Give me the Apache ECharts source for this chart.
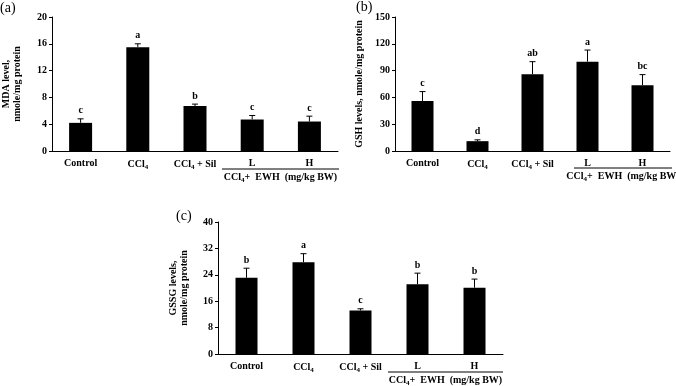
<!DOCTYPE html>
<html>
<head>
<meta charset="utf-8">
<script src="https://cdn.jsdelivr.net/npm/echarts@6/dist/echarts.min.js"></script>
<style>
  html, body { margin: 0; padding: 0; background: #fff; }
  #container { width: 676px; height: 386px; }
</style>
</head>
<body>
<div id="container"></div>
<script>
// groups on the x axis (same in all three panels)
const categories = ['Control', 'CCl4', 'CCl4 + Sil', 'L', 'H'];

// (a) MDA
const mdaMean = [4.2, 15.5, 6.7, 4.7, 4.4];
const mdaErr = [0.6, 0.5, 0.3, 0.6, 0.8];
const mdaLetters = ['c', 'a', 'b', 'c', 'c'];
const mdaTicks = [0, 20, 4];

// (b) GSH
const gshMean = [56, 11, 86, 100, 73.5];
const gshErr = [10.5, 1.5, 14, 13, 12];
const gshLetters = ['c', 'd', 'ab', 'a', 'bc'];
const gshTicks = [0, 150, 30];

// (c) GSSG
const gssgMean = [23.1, 27.8, 13.2, 21.1, 20.1];
const gssgErr = [2.9, 2.6, 0.5, 3.4, 2.6];
const gssgLetters = ['b', 'a', 'c', 'b', 'b'];
const gssgTicks = [0, 40, 8];

const FONT = '"Liberation Serif", "Times New Roman", serif';

var chart = echarts.init(document.getElementById('container'));

function xAxisFor(gridIndex) {
  return {
    type: 'category',
    gridIndex: gridIndex,
    data: categories,
    axisTick: { show: false },
    axisLine: { lineStyle: { color: '#000', width: 1 } },
    axisLabel: {
      interval: 0,
      hideOverlap: false,
      margin: 7,
      color: '#000',
      fontFamily: FONT,
      fontWeight: 'bold',
      fontSize: 10,
      formatter: (v) => v.replace('CCl4', 'CCl{sub|4}'),
      rich: {
        sub: { fontSize: 7, fontWeight: 'bold', fontFamily: FONT, padding: [6, 0, 0, 0] },
      },
    },
  };
}

function yAxisFor(gridIndex, ticks, name, gap) {
  return {
    type: 'value',
    gridIndex: gridIndex,
    min: ticks[0],
    max: ticks[1],
    interval: ticks[2],
    name: name,
    nameLocation: 'middle',
    nameRotate: 90,
    nameGap: gap,
    nameTextStyle: {
      color: '#000',
      fontFamily: FONT,
      fontWeight: 'bold',
      fontSize: 10,
      lineHeight: 11,
    },
    splitLine: { show: false },
    axisLine: { show: true, lineStyle: { color: '#000', width: 1 } },
    axisTick: { show: true, length: 3, lineStyle: { color: '#000' } },
    axisLabel: {
      margin: 5,
      color: '#000',
      fontFamily: FONT,
      fontWeight: 'bold',
      fontSize: 10,
    },
  };
}

function barSeries(idx, values, width) {
  return {
    type: 'bar',
    xAxisIndex: idx,
    yAxisIndex: idx,
    data: values,
    barWidth: width,
    itemStyle: { color: '#000' },
    silent: true,
  };
}

// upward error bar with cap and significance letter on top
function errorSeries(idx, means, errs, letters) {
  return {
    type: 'custom',
    xAxisIndex: idx,
    yAxisIndex: idx,
    silent: true,
    data: means.map((m, i) => [i, m, m + errs[i]]),
    renderItem: function (params, api) {
      const base = api.coord([api.value(0), api.value(1)]);
      const top = api.coord([api.value(0), api.value(2)]);
      const x = base[0];
      return {
        type: 'group',
        children: [
          {
            type: 'line',
            shape: { x1: x, y1: base[1], x2: x, y2: top[1] },
            style: { stroke: '#000', lineWidth: 1 },
          },
          {
            type: 'line',
            shape: { x1: x - 3, y1: top[1], x2: x + 3, y2: top[1] },
            style: { stroke: '#000', lineWidth: 1 },
          },
          {
            type: 'text',
            x: x,
            y: top[1] - 3,
            style: {
              text: letters[params.dataIndex],
              fill: '#000',
              font: 'bold 10px ' + FONT,
              align: 'center',
              verticalAlign: 'bottom',
            },
          },
        ],
      };
    },
  };
}

function groupLabel(x1, x2, y) {
  return [
    {
      type: 'line',
      shape: { x1: x1, y1: y, x2: x2, y2: y },
      style: { stroke: '#000', lineWidth: 1 },
    },
    {
      type: 'text',
      x: (x1 + x2) / 2,
      y: y + 8,
      style: {
        text: 'CCl{sub|4}+  EWH  (mg/kg BW)',
        fill: '#000',
        font: 'bold 10px ' + FONT,
        align: 'center',
        verticalAlign: 'middle',
        rich: {
          sub: { fontSize: 7, fontWeight: 'bold', fontFamily: FONT, padding: [6, 0, 0, 0] },
        },
      },
    },
  ];
}

function panelTitle(text, x, y) {
  return {
    type: 'text',
    x: x,
    y: y,
    style: { text: text, fill: '#000', font: '14px ' + FONT },
  };
}

option = {
  animation: false,
  backgroundColor: '#fff',
  grid: [
    { left: 40, right: 338, top: 17, bottom: 235 },
    { left: 395, right: 6, top: 17, bottom: 235 },
    { left: 218, right: 173, top: 222, bottom: 32 },
  ],
  xAxis: [xAxisFor(0), xAxisFor(1), xAxisFor(2)],
  yAxis: [
    yAxisFor(0, mdaTicks, 'MDA level,\nnmole/mg protein', 29),
    yAxisFor(1, gshTicks, 'GSH levels, nmole/mg protein', 30),
    yAxisFor(2, gssgTicks, 'GSSG levels,\nnmole/mg protein', 28),
  ],
  series: [
    barSeries(0, mdaMean, 23),
    errorSeries(0, mdaMean, mdaErr, mdaLetters),
    barSeries(1, gshMean, 22),
    errorSeries(1, gshMean, gshErr, gshLetters),
    barSeries(2, gssgMean, 22),
    errorSeries(2, gssgMean, gssgErr, gssgLetters),
  ],
  graphic: [
    panelTitle('(a)', 0, 1),
    panelTitle('(b)', 356, 0),
    panelTitle('(c)', 176, 209),
    ...groupLabel(222, 339, 169),
    ...groupLabel(574, 672, 168),
    ...groupLabel(388, 503, 372),
  ],
};

if (option && typeof option === 'object') {
  chart.setOption(option);
}
</script>
</body>
</html>
